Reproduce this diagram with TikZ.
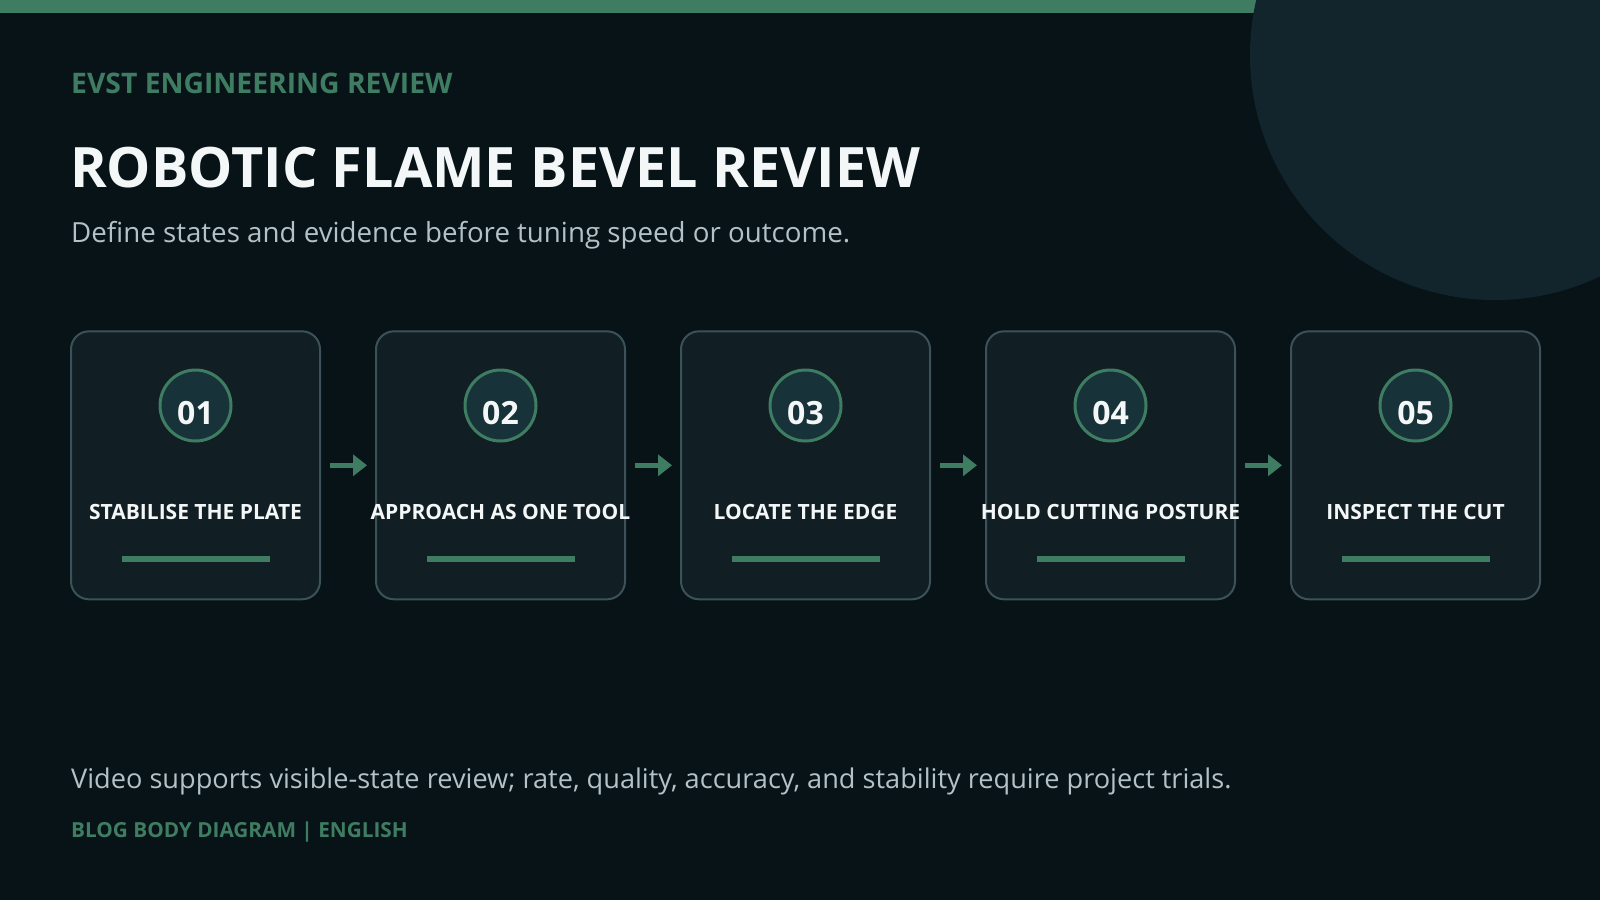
\documentclass[tikz,border=0pt]{standalone}
\usepackage{fontspec}
\setmainfont{Open Sans}
\usetikzlibrary{arrows.meta}
\definecolor{bg}{HTML}{081318}
\definecolor{accent}{HTML}{3F7D62}
\definecolor{deco}{HTML}{12252C}
\definecolor{cardfill}{HTML}{111E23}
\definecolor{cardline}{HTML}{3A5258}
\definecolor{numfill}{HTML}{173339}
\definecolor{titlecol}{HTML}{F4F7F7}
\definecolor{subcol}{HTML}{B3C2C6}
\tikzset{
  txt/.style={anchor=base west, inner sep=0pt},
  card/.style={draw=cardline, line width=2pt, fill=cardfill, rounded corners=18pt,
    minimum width=249pt, minimum height=268pt, inner sep=0pt},
  numcirc/.style={circle, draw=accent, line width=3pt, fill=numfill, minimum size=71pt, inner sep=0pt},
  numtxt/.style={anchor=base, inner sep=0pt, text=titlecol, font=\bfseries\fontsize{32}{36}\selectfont},
  lbl/.style={anchor=base, inner sep=0pt, text=titlecol, font=\bfseries\fontsize{21}{24}\selectfont},
  bar/.style={fill=accent, minimum width=148pt, minimum height=6.5pt, inner sep=0pt},
  flow/.style={draw=accent, line width=5pt, -{Triangle[length=14pt,width=21pt]}}
}
\begin{document}
\begin{tikzpicture}[x=1pt,y=-1pt]
\fill[bg] (0,0) rectangle (1600,900);
\useasboundingbox (0,0) rectangle (1600,900);
\fill[accent] (0,0) rectangle (1300,13);
\fill[deco] (1495,55) circle (245);

\node[txt, text=accent, font=\bfseries\fontsize{28.3}{32}\selectfont] (kicker) at (71,93) {EVST ENGINEERING REVIEW};
\node[txt, text=titlecol, font=\bfseries\fontsize{55.7}{64}\selectfont] (title) at (70,187) {ROBOTIC FLAME BEVEL REVIEW};
\node[txt, text=subcol, font=\fontsize{27.7}{32}\selectfont] (sub) at (71,242) {Define states and evidence before tuning speed or outcome.};

\foreach \i/\cx/\lab in {1/195.5/STABILISE THE PLATE, 2/500.5/APPROACH AS ONE TOOL, 3/805.5/LOCATE THE EDGE, 4/1110.5/HOLD CUTTING POSTURE, 5/1415.5/INSPECT THE CUT}{
  \node[card] (b\i) at (\cx,465.3) {};
  \node[numcirc] (c\i) at (\cx,405.5) {};
  \node[numtxt] (n\i) at (\cx,424.5) {0\i};
  \node[lbl] (l\i) at (\cx,519) {\lab};
  \node[bar] (r\i) at (\cx,559.2) {};
}
\foreach \a/\b in {1/2,2/3,3/4,4/5}{
  \draw[flow] ([xshift=9pt]b\a.east) -- ([xshift=-8pt]b\b.west);
}

\node[txt, text=subcol, font=\fontsize{27.15}{32}\selectfont] (foot) at (71,788) {Video supports visible-state review; rate, quality, accuracy, and stability require project trials.};
\node[txt, text=accent, font=\bfseries\fontsize{20.75}{24}\selectfont] (tag) at (71,837) {BLOG BODY DIAGRAM | ENGLISH};
\end{tikzpicture}
\end{document}
